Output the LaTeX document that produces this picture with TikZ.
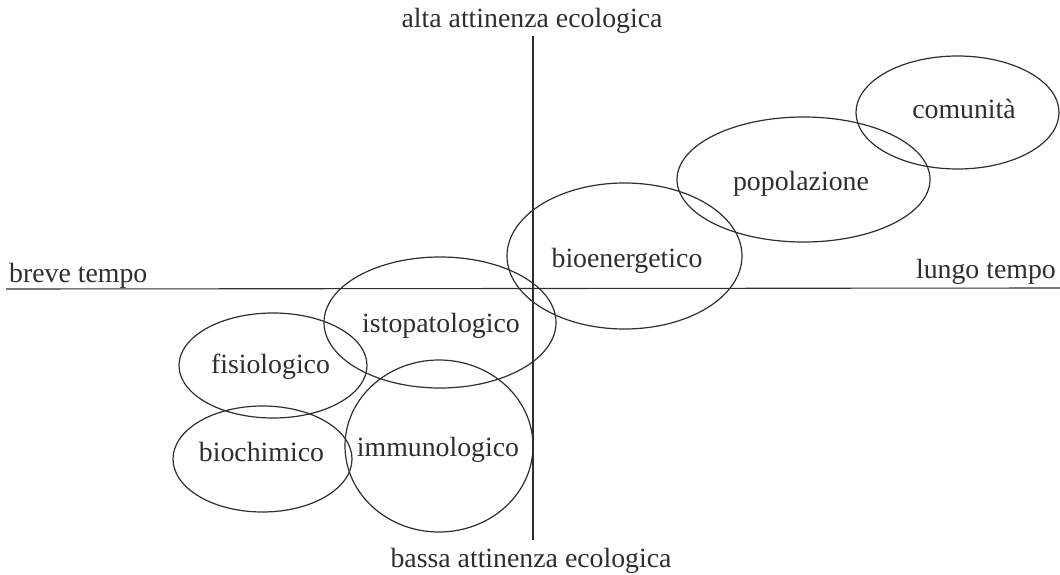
\documentclass[tikz,border=0pt]{standalone}
\usepackage{fontspec}
\setmainfont{Liberation Serif}
\usetikzlibrary{shapes.geometric}
\definecolor{ink}{HTML}{2E2E2E}
\begin{document}
\begin{tikzpicture}[x=1pt,y=-1pt,
  blob/.style={draw=ink, line width=1.2pt, ellipse, inner sep=0pt},
  axis/.style={draw=ink, line width=1.1pt},
  lbl/.style={text=ink, inner sep=0pt, anchor=base, font=\fontsize{27.8}{33}\selectfont}]
\useasboundingbox (0,0) rectangle (1060,575);
% axes
\coordinate (vtop) at (533,36);
\coordinate (vbot) at (533,540);
\coordinate (hleft) at (6,289);
\coordinate (hright) at (1060,288);
\draw[axis] (vtop) -- (vbot);
\draw[axis] (hleft) -- (hright);
% axis labels
\node[lbl] (alta) at (532,28) {alta attinenza ecologica};
\node[lbl] (bassa) at (531,567) {bassa attinenza ecologica};
\node[lbl, anchor=base west] (breve) at (9,282) {breve tempo};
\node[lbl, anchor=base east] (lungo) at (1056,278) {lungo tempo};
% ellipses
\node[blob, minimum width=203, minimum height=113] (com) at (957.5,112.5) {};
\node[blob, minimum width=253, minimum height=125] (pop) at (803.5,179.5) {};
\node[blob, minimum width=235, minimum height=146] (bioe) at (624.5,256) {};
\node[blob, minimum width=232, minimum height=131] (isto) at (440,322.5) {};
\node[blob, minimum width=188, minimum height=105] (fis) at (273,365.5) {};
\node[blob, minimum width=179, minimum height=106] (bioc) at (262.5,459) {};
\node[blob, minimum width=188, minimum height=172] (imm) at (439,446) {};
% ellipse labels
\node[lbl] (tcom) at (964,119) {comunità};
\node[lbl] (tpop) at (801,190) {popolazione};
\node[lbl] (tbioe) at (627,267) {bioenergetico};
\node[lbl] (tisto) at (441,332) {istopatologico};
\node[lbl] (tfis) at (270.5,373) {fisiologico};
\node[lbl] (tbioc) at (261.5,461) {biochimico};
\node[lbl] (timm) at (438,456) {immunologico};
\end{tikzpicture}
\end{document}
